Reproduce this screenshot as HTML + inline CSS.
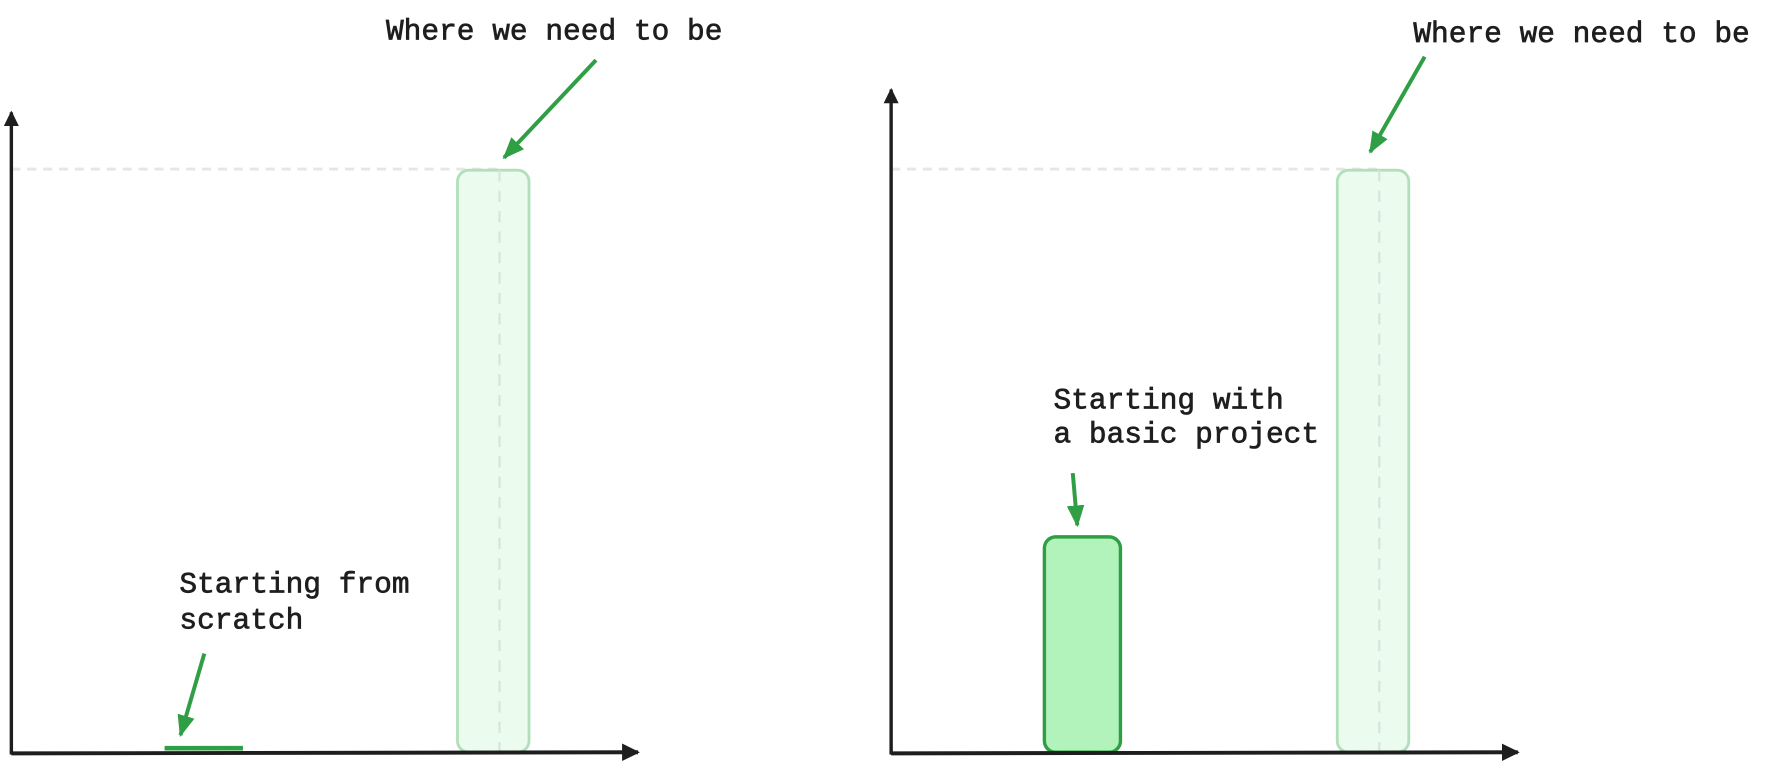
<!DOCTYPE html>
<html><head><meta charset="utf-8"><style>
html,body{margin:0;padding:0;background:#fff;}
svg{display:block}
text{font-family:"Liberation Mono",monospace;font-size:26px;fill:#1e1e1e;stroke:#1e1e1e;stroke-width:0.6px;}
</style></head><body>
<svg id="chart" width="1780" height="767" viewBox="0 0 1568 676" preserveAspectRatio="none" xmlns="http://www.w3.org/2000/svg">
<defs>
<marker id="ah" markerWidth="6" markerHeight="6" refX="5" refY="3" orient="auto" markerUnits="strokeWidth"><path d="M0,0.8 L5.5,3 L0,5.2 Z" fill="#2f9e44"/></marker>
<marker id="ax" markerWidth="5" markerHeight="5" refX="4" refY="2.5" orient="auto" markerUnits="strokeWidth"><path d="M0,0.3 L4.5,2.5 L0,4.7 Z" fill="#1e1e1e"/></marker>
</defs>
<g id="g"></g>
</svg>
<script>
const panels = ["from-scratch","basic-project"];
const startValues = [0.5, 37];
const targetValues = [100, 100];
const startLabels = [["Starting from","scratch"],["Starting with","a basic project"]];
const targetLabel = "Where we need to be";

const NS="http://www.w3.org/2000/svg";
const g=document.getElementById('g');
const base=663, top100=150;
function y(v){return base-(v/100)*(base-top100);}
function mk(tag,attrs,parent){const e=document.createElementNS(NS,tag);for(const k in attrs)e.setAttribute(k,attrs[k]);(parent||g).appendChild(e);return e;}
const offs=[0,775];
const yTop=[95,75];
panels.forEach((p,i)=>{
  const o=offs[i];
  const grp=mk('g',{});
  
  
  const tv=targetValues[i];
  const gl=mk('line',{x1:o+10,y1:y(tv)-1,x2:o+438,y2:y(tv)-1,stroke:'#e6e6e6','stroke-width':2.5,'stroke-dasharray':'8 6'},grp);
  
  
  const tb=mk('rect',{x:o+403,y:y(tv),width:63,height:base-y(tv),rx:10,fill:'#ebfbee',stroke:'#b2dfbb','stroke-width':2.5},grp);
  
  
  const tv2=mk('line',{x1:o+440,y1:y(tv),x2:o+440,y2:base,stroke:'#d6e6d9','stroke-width':2,'stroke-dasharray':'10 8'},grp);
  
  
  const sv=startValues[i];
  const h=base-y(sv);
  let sb;
  if(h<10){
    sb=mk('line',{x1:o+145,y1:y(sv)-1,x2:o+214,y2:y(sv)-1,stroke:'#2f9e44','stroke-width':4},grp);
  } else {
    sb=mk('rect',{x:o+145,y:y(sv),width:67,height:h,rx:10,fill:'#b2f2bb',stroke:'#2f9e44','stroke-width':3},grp);
  }
  
  
  const ya=mk('line',{x1:o+10,y1:665,x2:o+10,y2:yTop[i]+4,stroke:'#1e1e1e','stroke-width':3,'marker-end':'url(#ax)'},grp);
  
  
  const xa=mk('line',{x1:o+10,y1:664,x2:o+562,y2:663,stroke:'#1e1e1e','stroke-width':3.5,'marker-end':'url(#ax)'},grp);
  
  
  const tl=mk('text',{x:i?1245:340,y:i?37:35},grp);
  tl.textContent=targetLabel;
  
  
  const ta=mk('line',i?{x1:1255,y1:50,x2:1207,y2:134}:{x1:525,y1:53,x2:444,y2:139},grp);
  ta.setAttribute('stroke','#2f9e44');ta.setAttribute('stroke-width',3.5);ta.setAttribute('marker-end','url(#ah)');
  
  
  const lx=i?928:158, ly=i?[360,390]:[522,554];
  startLabels[i].forEach((t,j)=>{
    const e=mk('text',{x:lx,y:ly[j]},grp);e.textContent=t;
    
    
  });
  const sa=mk('line',i?{x1:945,y1:417,x2:949,y2:463}:{x1:180,y1:576,x2:159,y2:648},grp);
  sa.setAttribute('stroke','#2f9e44');sa.setAttribute('stroke-width',3.5);sa.setAttribute('marker-end','url(#ah)');
  
  
});
</script>
</body></html>
